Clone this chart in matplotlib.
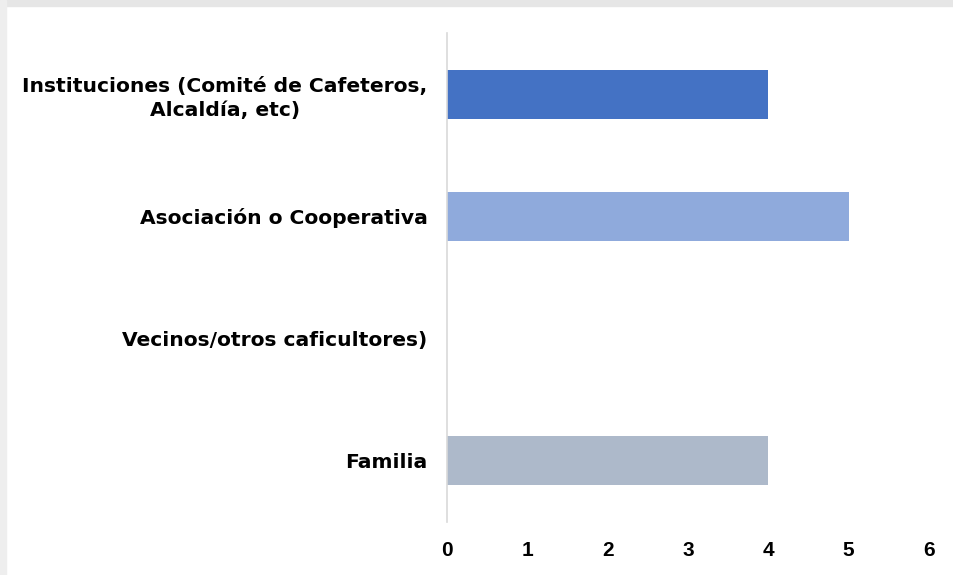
import matplotlib.pyplot as plt
from matplotlib.patches import Rectangle

categories = ['Instituciones (Comité de Cafeteros,\nAlcaldía, etc)',
              'Asociación o Cooperativa',
              'Vecinos/otros caficultores)',
              'Familia']
values = [4, 5, 0, 4]
colors = ['#4472C4', '#8FAADC', '#A9B4C2', '#ADB9CA']
xticks = [0, 1, 2, 3, 4, 5, 6]

plt.rcParams['font.family'] = ['DejaVu Sans']

fig = plt.figure(figsize=(9.54, 5.75), dpi=100)
# light frame at the top and left edges of the screenshot
fig.patches.append(Rectangle((0, 0.99), 1, 0.01, transform=fig.transFigure,
                             color='#E6E6E6', zorder=0))
fig.patches.append(Rectangle((0, 0), 0.006, 1, transform=fig.transFigure,
                             color='#EEEEEE', zorder=0))

ax = fig.add_axes([0.4686, 0.0922, 0.5052, 0.8504])
pos = list(range(len(categories)))
ax.barh(pos, values, height=0.4, color=colors)

ax.set_ylim(len(categories) - 0.5, -0.5)
ax.set_xlim(0, 6)
ax.set_xticks(xticks)
ax.set_xticklabels([str(t) for t in xticks], fontsize=15,
                   fontweight='bold', family='Liberation Sans')
ax.set_yticks(pos)
ax.set_yticklabels(categories, fontsize=14.6, fontweight='bold',
                   multialignment='center', linespacing=1.35)

ax.tick_params(axis='both', length=0)
ax.tick_params(axis='y', pad=14)
ax.tick_params(axis='x', pad=14)

for s in ['top', 'right', 'bottom']:
    ax.spines[s].set_visible(False)
ax.spines['left'].set_color('#D9D9D9')
ax.spines['left'].set_linewidth(1.2)

fig.savefig('out.png', dpi=100)
